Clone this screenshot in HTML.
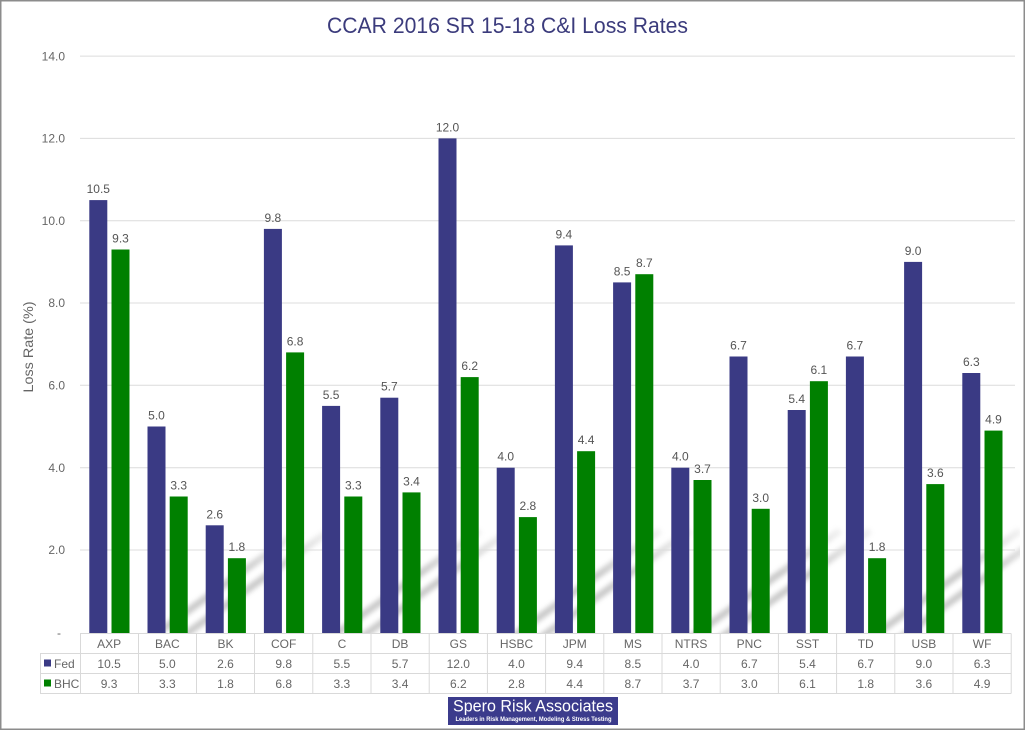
<!DOCTYPE html>
<html><head><meta charset="utf-8"><style>
html,body{margin:0;padding:0;background:#fff;}
#w{width:1025px;height:730px;position:relative;overflow:hidden;}
svg{display:block;font-family:"Liberation Sans",sans-serif;}
</style></head><body><div id="w">
<svg width="1025" height="730" viewBox="0 0 1025 730" xmlns="http://www.w3.org/2000/svg">
<defs>
<filter id="bl" x="-20%" y="-20%" width="140%" height="140%"><feGaussianBlur stdDeviation="2.5"/></filter>
<linearGradient id="fade" x1="0" y1="0" x2="0" y2="1"><stop offset="0" stop-color="#fff" stop-opacity="0"/><stop offset="0.5" stop-color="#fff" stop-opacity="1"/><stop offset="1" stop-color="#fff" stop-opacity="1"/></linearGradient>
<mask id="m"><rect x="80" y="515" width="940" height="118" fill="url(#fade)"/></mask>
<clipPath id="cp"><rect x="80" y="515" width="940" height="118"/></clipPath>
</defs>
<rect x="0" y="0" width="1025" height="730" fill="#fff"/>
<!-- decorative stripes -->
<g clip-path="url(#cp)" mask="url(#m)" filter="url(#bl)" stroke="#bdbdbd" stroke-width="7" opacity="0.8">
<line x1="120" y1="660" x2="300" y2="530"/>
<line x1="150" y1="660" x2="330" y2="530"/>
<line x1="300" y1="660" x2="480" y2="530"/>
<line x1="330" y1="660" x2="510" y2="530"/>
<line x1="480" y1="660" x2="660" y2="530"/>
<line x1="510" y1="660" x2="690" y2="530"/>
<line x1="660" y1="660" x2="840" y2="530"/>
<line x1="690" y1="660" x2="870" y2="530"/>
<line x1="840" y1="660" x2="1020" y2="530"/>
<line x1="870" y1="660" x2="1050" y2="530"/>
</g>
<!-- title -->
<text x="327" y="33" font-size="22" fill="#3b3b7c" textLength="361" lengthAdjust="spacingAndGlyphs">CCAR 2016 SR 15-18 C&amp;I Loss Rates</text>
<!-- gridlines -->
<g stroke="#dcdcdc" stroke-width="1">
<line x1="80" y1="56.1" x2="1015" y2="56.1"/>
<line x1="80" y1="138.4" x2="1015" y2="138.4"/>
<line x1="80" y1="220.7" x2="1015" y2="220.7"/>
<line x1="80" y1="303" x2="1015" y2="303"/>
<line x1="80" y1="385.3" x2="1015" y2="385.3"/>
<line x1="80" y1="467.7" x2="1015" y2="467.7"/>
<line x1="80" y1="550" x2="1015" y2="550"/>
</g>
<!-- y tick labels -->
<g font-size="12" fill="#666" text-anchor="end">
<text x="65" y="60.3">14.0</text>
<text x="65" y="142.6">12.0</text>
<text x="65" y="224.9">10.0</text>
<text x="65" y="307.2">8.0</text>
<text x="65" y="389.5">6.0</text>
<text x="65" y="471.9">4.0</text>
<text x="65" y="554.2">2.0</text>
<text x="61" y="637">-</text>
</g>
<text transform="translate(33,347) rotate(-90)" font-size="14" fill="#666" text-anchor="middle" textLength="91" lengthAdjust="spacingAndGlyphs">Loss Rate (%)</text>
<!-- Fed bars -->
<g fill="#3a3a84">
<rect x="89.3" y="200.1" width="18" height="432.9"/>
<rect x="147.5" y="426.5" width="18" height="206.5"/>
<rect x="205.7" y="525.3" width="18" height="107.7"/>
<rect x="263.9" y="228.9" width="18" height="404.1"/>
<rect x="322.1" y="405.9" width="18" height="227.1"/>
<rect x="380.3" y="397.7" width="18" height="235.3"/>
<rect x="438.5" y="138.4" width="18" height="494.6"/>
<rect x="496.7" y="467.7" width="18" height="165.3"/>
<rect x="554.9" y="245.4" width="18" height="387.6"/>
<rect x="613.1" y="282.4" width="18" height="350.6"/>
<rect x="671.3" y="467.7" width="18" height="165.3"/>
<rect x="729.5" y="356.5" width="18" height="276.5"/>
<rect x="787.7" y="410" width="18" height="223"/>
<rect x="845.9" y="356.5" width="18" height="276.5"/>
<rect x="904.1" y="261.9" width="18" height="371.1"/>
<rect x="962.3" y="373" width="18" height="260"/>
</g>
<!-- BHC bars -->
<g fill="#008000">
<rect x="111.5" y="249.5" width="18" height="383.5"/>
<rect x="169.7" y="496.5" width="18" height="136.5"/>
<rect x="227.9" y="558.2" width="18" height="74.8"/>
<rect x="286.1" y="352.4" width="18" height="280.6"/>
<rect x="344.3" y="496.5" width="18" height="136.5"/>
<rect x="402.5" y="492.4" width="18" height="140.6"/>
<rect x="460.7" y="377.1" width="18" height="255.9"/>
<rect x="518.9" y="517.1" width="18" height="115.9"/>
<rect x="577.1" y="451.2" width="18" height="181.8"/>
<rect x="635.3" y="274.2" width="18" height="358.8"/>
<rect x="693.5" y="480" width="18" height="153"/>
<rect x="751.7" y="508.8" width="18" height="124.2"/>
<rect x="809.9" y="381.2" width="18" height="251.8"/>
<rect x="868.1" y="558.2" width="18" height="74.8"/>
<rect x="926.3" y="484.1" width="18" height="148.9"/>
<rect x="984.5" y="430.6" width="18" height="202.4"/>
</g>
<!-- value labels -->
<g font-size="12" fill="#555" text-anchor="middle">
<text x="98.3" y="193.1">10.5</text>
<text x="156.5" y="419.5">5.0</text>
<text x="214.7" y="518.3">2.6</text>
<text x="272.9" y="221.9">9.8</text>
<text x="331.1" y="398.9">5.5</text>
<text x="389.3" y="390.7">5.7</text>
<text x="447.5" y="131.4">12.0</text>
<text x="505.7" y="460.7">4.0</text>
<text x="563.9" y="238.4">9.4</text>
<text x="622.1" y="275.4">8.5</text>
<text x="680.3" y="460.7">4.0</text>
<text x="738.5" y="349.5">6.7</text>
<text x="796.7" y="403">5.4</text>
<text x="854.9" y="349.5">6.7</text>
<text x="913.1" y="254.9">9.0</text>
<text x="971.3" y="366">6.3</text>
<text x="120.5" y="242.5">9.3</text>
<text x="178.7" y="489.5">3.3</text>
<text x="236.9" y="551.2">1.8</text>
<text x="295.1" y="345.4">6.8</text>
<text x="353.3" y="489.5">3.3</text>
<text x="411.5" y="485.4">3.4</text>
<text x="469.7" y="370.1">6.2</text>
<text x="527.9" y="510.1">2.8</text>
<text x="586.1" y="444.2">4.4</text>
<text x="644.3" y="267.2">8.7</text>
<text x="702.5" y="473">3.7</text>
<text x="760.7" y="501.8">3.0</text>
<text x="818.9" y="374.2">6.1</text>
<text x="877.1" y="551.2">1.8</text>
<text x="935.3" y="477.1">3.6</text>
<text x="993.5" y="423.6">4.9</text>
</g>
<!-- table -->
<g stroke="#d9d9d9" stroke-width="1" fill="none">
<line x1="80" y1="633.5" x2="1011.2" y2="633.5"/>
<line x1="40" y1="653.5" x2="1011.2" y2="653.5"/>
<line x1="40" y1="673.5" x2="1011.2" y2="673.5"/>
<line x1="40" y1="693.5" x2="1011.2" y2="693.5"/>
<line x1="40.5" y1="653.5" x2="40.5" y2="693.5"/>
<line x1="80.5" y1="633.5" x2="80.5" y2="693.5"/>
<line x1="138.5" y1="633.5" x2="138.5" y2="693.5"/>
<line x1="196.5" y1="633.5" x2="196.5" y2="693.5"/>
<line x1="254.5" y1="633.5" x2="254.5" y2="693.5"/>
<line x1="312.8" y1="633.5" x2="312.8" y2="693.5"/>
<line x1="371" y1="633.5" x2="371" y2="693.5"/>
<line x1="429.2" y1="633.5" x2="429.2" y2="693.5"/>
<line x1="487.4" y1="633.5" x2="487.4" y2="693.5"/>
<line x1="545.6" y1="633.5" x2="545.6" y2="693.5"/>
<line x1="603.8" y1="633.5" x2="603.8" y2="693.5"/>
<line x1="662" y1="633.5" x2="662" y2="693.5"/>
<line x1="720.2" y1="633.5" x2="720.2" y2="693.5"/>
<line x1="778.4" y1="633.5" x2="778.4" y2="693.5"/>
<line x1="836.6" y1="633.5" x2="836.6" y2="693.5"/>
<line x1="894.8" y1="633.5" x2="894.8" y2="693.5"/>
<line x1="953" y1="633.5" x2="953" y2="693.5"/>
<line x1="1011.2" y1="633.5" x2="1011.2" y2="693.5"/>
</g>
<rect x="44" y="659.5" width="7" height="7" fill="#3a3a84"/>
<rect x="44" y="679.5" width="7" height="7" fill="#008000"/>
<g font-size="12" fill="#666">
<text x="54" y="668">Fed</text>
<text x="54" y="688">BHC</text>
</g>
<g font-size="12" fill="#666" text-anchor="middle">
<text x="109.1" y="648">AXP</text><text x="167.3" y="648">BAC</text><text x="225.5" y="648">BK</text><text x="283.7" y="648">COF</text><text x="341.9" y="648">C</text><text x="400.1" y="648">DB</text><text x="458.3" y="648">GS</text><text x="516.5" y="648">HSBC</text><text x="574.7" y="648">JPM</text><text x="632.9" y="648">MS</text><text x="691.1" y="648">NTRS</text><text x="749.3" y="648">PNC</text><text x="807.5" y="648">SST</text><text x="865.7" y="648">TD</text><text x="923.9" y="648">USB</text><text x="982.1" y="648">WF</text>
<text x="109.1" y="668">10.5</text><text x="167.3" y="668">5.0</text><text x="225.5" y="668">2.6</text><text x="283.7" y="668">9.8</text><text x="341.9" y="668">5.5</text><text x="400.1" y="668">5.7</text><text x="458.3" y="668">12.0</text><text x="516.5" y="668">4.0</text><text x="574.7" y="668">9.4</text><text x="632.9" y="668">8.5</text><text x="691.1" y="668">4.0</text><text x="749.3" y="668">6.7</text><text x="807.5" y="668">5.4</text><text x="865.7" y="668">6.7</text><text x="923.9" y="668">9.0</text><text x="982.1" y="668">6.3</text>
<text x="109.1" y="688">9.3</text><text x="167.3" y="688">3.3</text><text x="225.5" y="688">1.8</text><text x="283.7" y="688">6.8</text><text x="341.9" y="688">3.3</text><text x="400.1" y="688">3.4</text><text x="458.3" y="688">6.2</text><text x="516.5" y="688">2.8</text><text x="574.7" y="688">4.4</text><text x="632.9" y="688">8.7</text><text x="691.1" y="688">3.7</text><text x="749.3" y="688">3.0</text><text x="807.5" y="688">6.1</text><text x="865.7" y="688">1.8</text><text x="923.9" y="688">3.6</text><text x="982.1" y="688">4.9</text>
</g>
<!-- logo -->
<rect x="448" y="697" width="170" height="28" fill="#3b3b8c"/>
<text x="453" y="711.5" font-size="17" fill="#fff" textLength="160" lengthAdjust="spacingAndGlyphs">Spero Risk Associates</text>
<text x="455.5" y="721" font-size="6.5" font-weight="bold" fill="#fff" textLength="156" lengthAdjust="spacingAndGlyphs">Leaders in Risk Management, Modeling &amp; Stress Testing</text>
<!-- border -->
<rect x="0.75" y="0.75" width="1023.5" height="728.5" fill="none" stroke="#8c8c8c" stroke-width="1.5"/>
</svg>
</div></body></html>
